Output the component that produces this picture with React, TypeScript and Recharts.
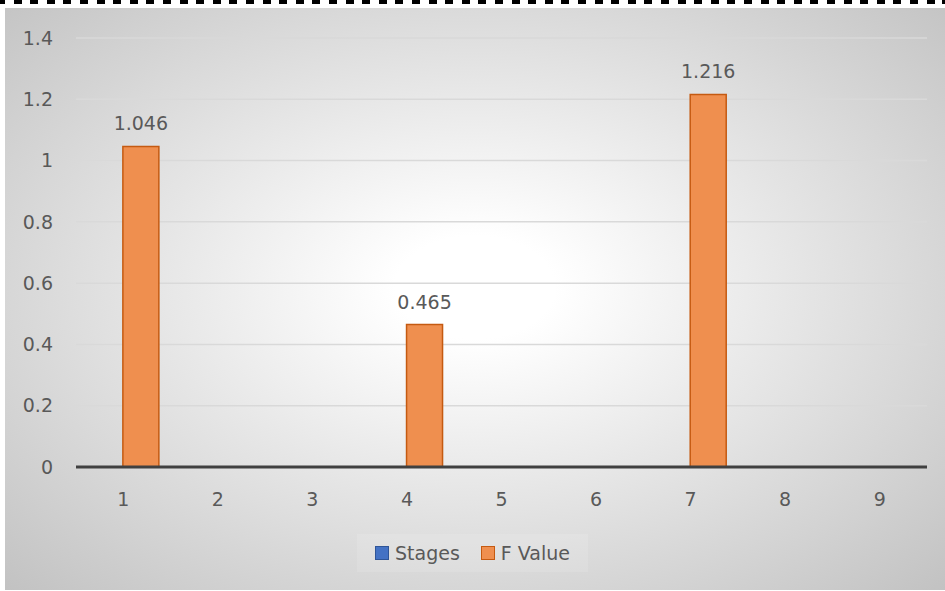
import React from "react";
import { BarChart, Bar, XAxis, YAxis, CartesianGrid, Legend, LabelList } from "recharts";

const categories = ["1", "2", "3", "4", "5", "6", "7", "8", "9"];
const stagesValues: (number | null)[] = [null, null, null, null, null, null, null, null, null];
const fValues: (number | null)[] = [1.046, null, null, 0.465, null, null, 1.216, null, null];
const yTicks = [0, 0.2, 0.4, 0.6, 0.8, 1, 1.2, 1.4];

const data = categories.map((c, i) => ({ cat: c, stages: stagesValues[i], f: fValues[i] }));

const FONT = "'DejaVu Sans', sans-serif";
const TXT = "#595959";
const FS = 19;

const LegendContent = () => (
  <div
    style={{
      display: "flex",
      justifyContent: "center",
      alignItems: "center",
      height: 30,
      fontFamily: FONT,
      fontSize: FS,
      color: TXT,
    }}
  >
    <div style={{ display: "flex", alignItems: "center", background: "rgba(255,255,255,0.12)", padding: "8px 18px" }}>
      <span style={{ width: 12, height: 12, background: "#4472C4", border: "1.5px solid #2F5597", display: "inline-block", marginRight: 6 }} />
      <span style={{ marginRight: 21 }}>Stages</span>
      <span style={{ width: 12, height: 12, background: "#EF8F4F", border: "1.5px solid #C55A11", display: "inline-block", marginRight: 6 }} />
      <span>F Value</span>
    </div>
  </div>
);

export default function App() {
  return (
    <div style={{ position: "absolute", left: 0, top: 0, width: 945, height: 591, background: "#fff", overflow: "hidden" }}>
      <div
        style={{
          position: "absolute",
          left: 0,
          top: 0,
          width: 945,
          height: 4,
          background: "repeating-linear-gradient(to right, #000 0px, #000 8px, transparent 8px, transparent 16.6px)",
          backgroundPosition: "-3px 0",
        }}
      />
      <div
        style={{
          position: "absolute",
          left: 5,
          top: 8,
          width: 940,
          height: 582,
          background: "radial-gradient(ellipse farthest-corner at 50% 48%, #ffffff 0%, #ffffff 12%, #c2c2c2 100%)",
        }}
      />
      <div style={{ position: "absolute", left: 0, top: 0 }}>
        <BarChart
          width={945}
          height={591}
          data={data}
          margin={{ top: 38, right: 18, left: 16, bottom: 54 }}
          barCategoryGap="11.5%"
          barGap={0}
        >
          <CartesianGrid vertical={false} stroke="#d9d9d9" strokeWidth={1.5} />
          <XAxis
            dataKey="cat"
            height={40}
            tickLine={false}
            tickSize={0}
            tickMargin={26}
            axisLine={{ stroke: "#404040", strokeWidth: 3 }}
            tick={{ fill: TXT, fontSize: FS, fontFamily: FONT }}
          />
          <YAxis
            width={60}
            domain={[0, 1.4]}
            ticks={yTicks}
            tickFormatter={(v: number) => String(v)}
            axisLine={false}
            tickLine={false}
            tickSize={0}
            tickMargin={23}
            tick={{ fill: TXT, fontSize: FS, fontFamily: FONT }}
          />
          <Legend content={<LegendContent />} wrapperStyle={{ top: 538, left: 0, width: 945, height: 30 }} />
          <Bar dataKey="stages" name="Stages" fill="#4472C4" stroke="#2F5597" strokeWidth={1.5} isAnimationActive={false} />
          <Bar dataKey="f" name="F Value" fill="#EF8F4F" stroke="#C55A11" strokeWidth={1.5} isAnimationActive={false}>
            <LabelList dataKey="f" position="top" offset={16} fill={TXT} fontSize={FS} fontFamily={FONT} />
          </Bar>
        </BarChart>
      </div>
    </div>
  );
}
